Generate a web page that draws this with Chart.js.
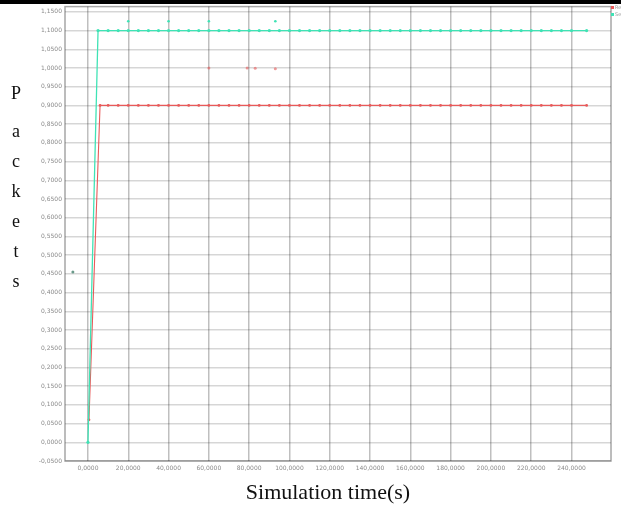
<!DOCTYPE html>
<html>
<head>
<meta charset="utf-8">
<script src="https://cdn.jsdelivr.net/npm/chart.js@4/dist/chart.umd.min.js"></script>
<style>
    html, body {margin: 0; padding: 0; background: #fff; overflow: hidden;}
    body {width: 621px; height: 508px; position: relative;}
    #topBar {position: absolute; left: 0; top: 0; width: 621px; height: 4px; background: #000;}
    #wrap {position: absolute; left: 0; top: 0; width: 621px; height: 480px;}
    #yTitle {position: absolute; left: 9px; top: 78px; width: 14px; text-align: center;
        font-family: "Liberation Serif", serif; font-size: 18px; line-height: 30px; color: #111;}
    #yTitle .first {margin-bottom: 8px;}
    #xTitle {position: absolute; left: 228px; width: 200px; top: 479px; text-align: center;
        font-family: "Liberation Serif", serif; font-size: 22px; color: #111;}
    #legend {position: absolute; left: 611px; top: 4px; font-family: "DejaVu Sans", sans-serif;
        font-size: 5px; line-height: 7px; white-space: nowrap; color: #999;}
    #legend i {display: inline-block; width: 3px; height: 3px; margin-right: 1px;}
</style>
</head>
<body>
<div id="wrap"><canvas id="packetsChart"></canvas></div>
<div id="topBar"></div>
<div id="yTitle"><div class="first">P</div>a<br>c<br>k<br>e<br>t<br>s</div>
<div id="xTitle">Simulation time(s)</div>
<div id="legend">
    <div><i style="background:#e85a5a"></i>Received</div>
    <div><i style="background:#3fe3b5"></i>Sent</div>
</div>
<script>
// simulation time (s) of each sample
const sentTimes = [0, 5, 10, 15, 20, 25, 30, 35, 40, 45, 50, 55, 60, 65, 70, 75, 80, 85, 90, 95,
    100, 105, 110, 115, 120, 125, 130, 135, 140, 145, 150, 155, 160, 165, 170, 175, 180, 185, 190, 195,
    200, 205, 210, 215, 220, 225, 230, 235, 240, 247.5];
const sentPackets = [0, 1.1, 1.1, 1.1, 1.1, 1.1, 1.1, 1.1, 1.1, 1.1, 1.1, 1.1, 1.1, 1.1, 1.1, 1.1, 1.1, 1.1, 1.1, 1.1,
    1.1, 1.1, 1.1, 1.1, 1.1, 1.1, 1.1, 1.1, 1.1, 1.1, 1.1, 1.1, 1.1, 1.1, 1.1, 1.1, 1.1, 1.1, 1.1, 1.1,
    1.1, 1.1, 1.1, 1.1, 1.1, 1.1, 1.1, 1.1, 1.1, 1.1];

const recvTimes = [0.5, 6, 10, 15, 20, 25, 30, 35, 40, 45, 50, 55, 60, 65, 70, 75, 80, 85, 90, 95,
    100, 105, 110, 115, 120, 125, 130, 135, 140, 145, 150, 155, 160, 165, 170, 175, 180, 185, 190, 195,
    200, 205, 210, 215, 220, 225, 230, 235, 240, 247.5];
const recvPackets = [0.06, 0.9, 0.9, 0.9, 0.9, 0.9, 0.9, 0.9, 0.9, 0.9, 0.9, 0.9, 0.9, 0.9, 0.9, 0.9, 0.9, 0.9, 0.9, 0.9,
    0.9, 0.9, 0.9, 0.9, 0.9, 0.9, 0.9, 0.9, 0.9, 0.9, 0.9, 0.9, 0.9, 0.9, 0.9, 0.9, 0.9, 0.9, 0.9, 0.9,
    0.9, 0.9, 0.9, 0.9, 0.9, 0.9, 0.9, 0.9, 0.9, 0.9];

// stray samples
const sentStrayTimes = [20, 40, 60, 93];
const sentStrayPackets = [1.125, 1.125, 1.125, 1.125];
const recvStrayTimes = [60, 79, 83, 93];
const recvStrayPackets = [1.0, 1.0, 0.999, 0.998];
const otherTimes = [-7.5];
const otherPackets = [0.455];

const xTicks = [0, 20, 40, 60, 80, 100, 120, 140, 160, 180, 200, 220, 240];
const yTicks = [-0.05, 0, 0.05, 0.1, 0.15, 0.2, 0.25, 0.3, 0.35, 0.4, 0.45, 0.5, 0.55, 0.6,
    0.65, 0.7, 0.75, 0.8, 0.85, 0.9, 0.95, 1.0, 1.05, 1.1, 1.15];

const toPoints = (xs, ys) => xs.map((x, i) => ({x, y: ys[i]}));
const fmt = v => Number(v).toFixed(4).replace(".", ",");

const GREEN = "#3fe3b5";
const RED = "#e85a5a";

const frame = {
    id: "frame",
    afterDraw(chart) {
        const {ctx, chartArea: a} = chart;
        ctx.save();
        ctx.strokeStyle = "rgba(0,0,0,0.35)";
        ctx.lineWidth = 1.5;
        ctx.strokeRect(a.left, a.top, a.right - a.left, a.bottom - a.top);
        ctx.restore();
    }
};

new Chart(document.getElementById("packetsChart"), {
    type: "scatter",
    data: {
        datasets: [
            {
                label: "Sent",
                data: toPoints(sentTimes, sentPackets),
                showLine: true,
                borderColor: GREEN,
                backgroundColor: GREEN,
                borderWidth: 1.3,
                pointRadius: 1.6,
                pointBorderWidth: 0
            },
            {
                label: "Received",
                data: toPoints(recvTimes, recvPackets),
                showLine: true,
                borderColor: RED,
                backgroundColor: RED,
                borderWidth: 1.1,
                pointRadius: 1.4,
                pointBorderWidth: 0
            },
            {
                data: toPoints(sentStrayTimes, sentStrayPackets),
                backgroundColor: GREEN,
                pointRadius: 1.3,
                pointBorderWidth: 0
            },
            {
                data: toPoints(recvStrayTimes, recvStrayPackets),
                backgroundColor: "rgba(232,90,90,0.6)",
                pointRadius: 1.5,
                pointBorderWidth: 0
            },
            {
                data: toPoints(otherTimes, otherPackets),
                backgroundColor: "#6a9a8a",
                pointRadius: 1.5,
                pointBorderWidth: 0
            }
        ]
    },
    options: {
        responsive: true,
        maintainAspectRatio: false,
        animation: false,
        layout: {padding: {top: 6, right: 10, left: 0, bottom: 0}},
        plugins: {
            legend: {display: false},
            tooltip: {enabled: false}
        },
        scales: {
            x: {
                type: "linear",
                min: -11.4,
                max: 259.6,
                afterBuildTicks: s => { s.ticks = xTicks.map(v => ({value: v})); },
                afterFit: s => { s.height = 19; },
                grid: {color: "rgba(0,0,0,0.25)", lineWidth: 1.5, drawTicks: false},
                border: {display: false},
                ticks: {
                    callback: v => fmt(v),
                    font: {size: 6, family: "DejaVu Sans"},
                    color: "#8a8a8a",
                    padding: 4,
                    maxRotation: 0,
                    autoSkip: false
                }
            },
            y: {
                type: "linear",
                min: -0.05,
                max: 1.164,
                afterBuildTicks: s => { s.ticks = yTicks.map(v => ({value: v})); },
                afterFit: s => { s.width = 65; },
                grid: {color: "rgba(0,0,0,0.16)", lineWidth: 1.5, drawTicks: false},
                border: {display: false},
                ticks: {
                    callback: v => fmt(v),
                    font: {size: 6, family: "DejaVu Sans"},
                    color: "#8a8a8a",
                    padding: 3,
                    autoSkip: false
                }
            }
        }
    },
    plugins: [frame]
});
</script>
</body>
</html>
